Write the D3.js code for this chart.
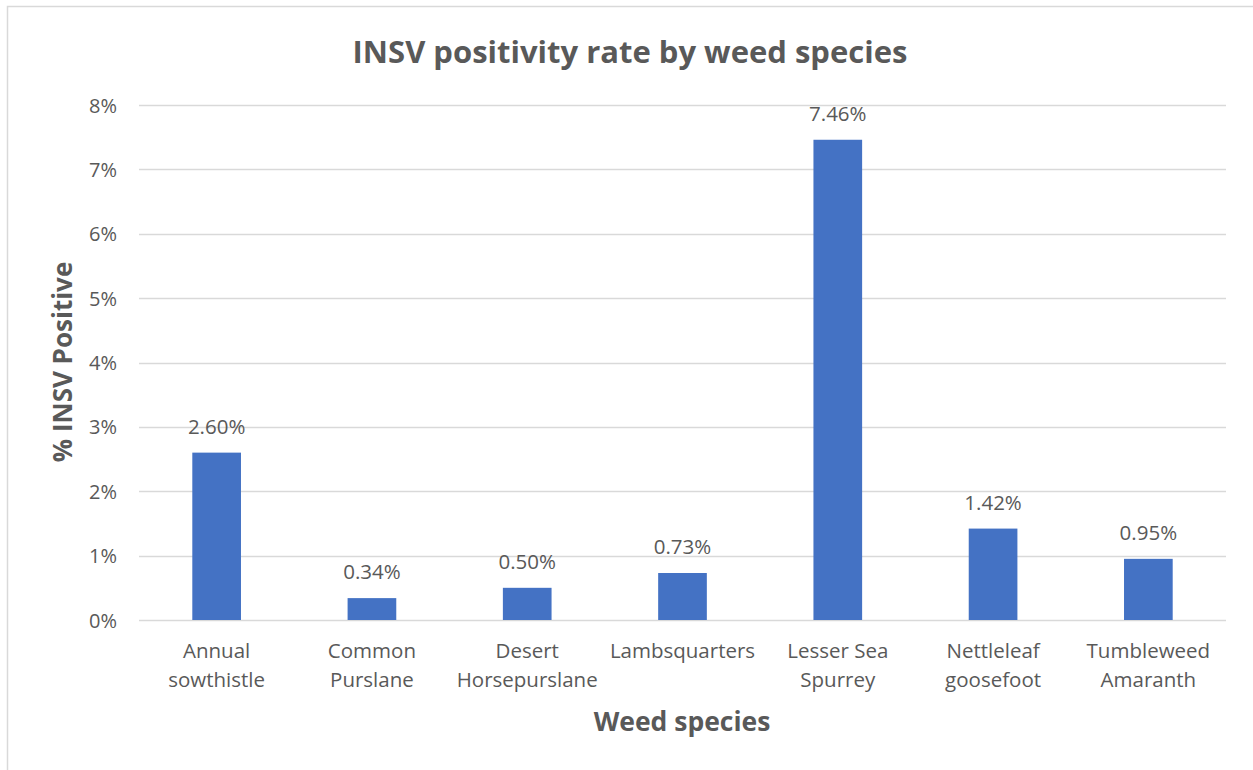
<!DOCTYPE html>
<html><head><meta charset="utf-8">
<script src="https://cdn.jsdelivr.net/npm/d3@7"></script>
<style>body{margin:0;background:#fff}svg{display:block}text{font-family:"Open Sans",sans-serif;fill:#595959}</style>
</head><body><svg id="c" width="1253" height="770"></svg>
<script>
const categories = [["Annual","sowthistle"],["Common","Purslane"],["Desert","Horsepurslane"],["Lambsquarters"],["Lesser Sea","Spurrey"],["Nettleleaf","goosefoot"],["Tumbleweed","Amaranth"]];
const values = [2.60, 0.34, 0.50, 0.73, 7.46, 1.42, 0.95];
const yTicks = [0,1,2,3,4,5,6,7,8];
const labels = ["2.60%","0.34%","0.50%","0.73%","7.46%","1.42%","0.95%"];

const svg = d3.select("#c");
svg.append("rect").attr("x",7.5).attr("y",6.5).attr("width",1270).attr("height",800).attr("fill","#fff").attr("stroke","#d9d9d9").attr("stroke-width",1.5);

const L=139, R=1226, T=105, B=620;
const keys = categories.map((c,i)=>i);
const x = d3.scaleBand().domain(keys).range([L,R]).paddingInner(219/319).paddingOuter(219/319/2);
const y = d3.scaleLinear().domain([0,8]).range([B,T]);

const grid = svg.append("g");
grid.selectAll("line").data(yTicks).join("line")
  .attr("x1",L).attr("x2",R).attr("y1",d=>Math.round(y(d))+0.5).attr("y2",d=>Math.round(y(d))+0.5)
  .attr("stroke","#d9d9d9").attr("stroke-width",1.3);

const yAxis = d3.axisLeft(y).tickValues(yTicks).tickFormat(d=>d+"%").tickSize(0).tickPadding(22);
const ya = svg.append("g").attr("transform",`translate(${L},0)`).call(yAxis);
ya.select(".domain").remove();
ya.selectAll("text").style("font-size","20px").attr("fill","#595959").attr("dy","0.35em");

svg.append("g").selectAll("rect").data(values).join("rect")
  .attr("x",(d,i)=>x(i)).attr("width",x.bandwidth())
  .attr("y",d=>y(d)).attr("height",d=>B-y(d)).attr("fill","#4472C4");

svg.append("g").selectAll("text").data(values).join("text")
  .attr("x",(d,i)=>x(i)+x.bandwidth()/2).attr("y",d=>y(d)-19)
  .attr("text-anchor","middle").style("font-size","20.5px").text((d,i)=>labels[i]);

const xl = svg.append("g").selectAll("text").data(categories).join("text")
  .attr("x",(d,i)=>x(i)+x.bandwidth()/2).attr("y",658)
  .attr("text-anchor","middle").style("font-size","20.5px");
xl.each(function(d){
  const t=d3.select(this);
  d.forEach((s,j)=>t.append("tspan").attr("x",t.attr("x")).attr("dy",j?29:0).text(s));
});

svg.append("text").attr("x",630).attr("y",63).attr("text-anchor","middle")
  .style("font-size","31px").style("font-weight","700").text("INSV positivity rate by weed species");
svg.append("text").attr("x",682).attr("y",731).attr("text-anchor","middle")
  .style("font-size","26.5px").style("font-weight","700").text("Weed species");
svg.append("text").attr("transform","translate(72,362) rotate(-90)").attr("text-anchor","middle")
  .style("font-size","26px").style("font-weight","700").text("% INSV Positive");
</script></body></html>
